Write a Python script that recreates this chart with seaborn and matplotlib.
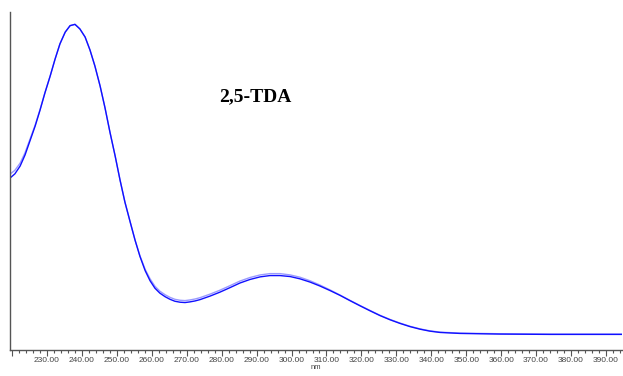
import matplotlib
matplotlib.use("Agg")
import matplotlib.pyplot as plt
import seaborn as sns
import pandas as pd
from matplotlib.ticker import MultipleLocator, FixedLocator, FixedFormatter

# wavelength (nm) and absorbance readings (arbitrary units)
wavelength = [219.4, 220.8, 222.3, 223.7, 225.1, 226.6, 228.0, 229.4, 230.9, 232.3,
              233.7, 235.2, 236.6, 238.0, 239.4, 240.9, 242.3, 243.7, 245.2, 246.6,
              248.0, 249.5, 250.9, 252.3, 253.8, 255.2, 256.6, 258.1, 259.5, 260.9,
              262.3, 263.8, 265.2, 266.6, 268.1, 269.5, 270.9, 272.4, 273.8, 276.7,
              279.5, 282.4, 285.2, 288.1, 291.0, 293.8, 296.7, 299.6, 302.4, 305.3,
              308.1, 311.0, 313.9, 316.7, 319.6, 322.4, 325.3, 328.2, 331.0, 333.9,
              336.8, 339.6, 342.5, 348.2, 359.7, 374.0, 394.6]
scan_a = [0.529, 0.542, 0.566, 0.600, 0.643, 0.689, 0.738, 0.791, 0.843, 0.895,
          0.942, 0.978, 0.998, 1.002, 0.988, 0.963, 0.923, 0.874, 0.812, 0.745,
          0.671, 0.597, 0.523, 0.455, 0.394, 0.338, 0.288, 0.244, 0.213, 0.190,
          0.175, 0.164, 0.156, 0.150, 0.147, 0.146, 0.148, 0.151, 0.155, 0.166,
          0.178, 0.192, 0.206, 0.217, 0.225, 0.229, 0.229, 0.226, 0.219, 0.209,
          0.197, 0.183, 0.168, 0.152, 0.136, 0.121, 0.106, 0.093, 0.082, 0.072,
          0.064, 0.058, 0.054, 0.051, 0.049, 0.048, 0.048]
scan_b = [0.541, 0.553, 0.575, 0.607, 0.648, 0.692, 0.740, 0.792, 0.843, 0.895,
          0.942, 0.978, 0.998, 1.002, 0.988, 0.963, 0.923, 0.874, 0.812, 0.745,
          0.671, 0.597, 0.523, 0.455, 0.394, 0.338, 0.290, 0.248, 0.219, 0.196,
          0.181, 0.170, 0.162, 0.156, 0.153, 0.152, 0.154, 0.157, 0.161, 0.172,
          0.184, 0.198, 0.212, 0.223, 0.231, 0.235, 0.235, 0.231, 0.224, 0.213,
          0.200, 0.185, 0.169, 0.153, 0.137, 0.122, 0.107, 0.094, 0.083, 0.073,
          0.065, 0.059, 0.055, 0.052, 0.050, 0.049, 0.049]

major_ticks = [220, 230, 240, 250, 260, 270, 280, 290, 300, 310, 320, 330, 340, 350, 360, 370, 380, 390]
major_labels = [""] + [f"{t:.2f}" for t in major_ticks[1:]]

df = pd.DataFrame({"nm": wavelength * 2,
                   "A": scan_b + scan_a,
                   "scan": ["b"] * len(wavelength) + ["a"] * len(wavelength)})

sns.set_style("white")
fig = plt.figure(figsize=(6.23, 3.76), dpi=100)
ax = fig.add_axes([10 / 623, 26 / 376, 612 / 623, 338 / 376])

sns.lineplot(data=df, x="nm", y="A", hue="scan", palette={"b": "#9a9aff", "a": "#1010ff"},
             linewidth=1.0, legend=False, ax=ax, sort=False, estimator=None)

ax.set_xlim(219.4, 394.6)
ax.set_ylim(0, 1.04)
ax.xaxis.set_major_locator(FixedLocator(major_ticks))
ax.xaxis.set_major_formatter(FixedFormatter(major_labels))
ax.xaxis.set_minor_locator(MultipleLocator(2))
ax.set_yticks([])
ax.tick_params(axis="x", which="major", direction="out", length=4, width=0.8,
               color="#555555", labelsize=6, labelcolor="#444444", pad=1.0, bottom=True)
ax.tick_params(axis="x", which="minor", direction="out", length=2, width=0.8,
               color="#555555", bottom=True)
for lab in ax.get_xticklabels():
    lab.set_family("Liberation Sans")
ax.set_xlabel("nm", fontsize=5.5, family="Liberation Sans", color="#444444", labelpad=0)
ax.set_ylabel("")
for s in ["top", "right"]:
    ax.spines[s].set_visible(False)
for s in ["left", "bottom"]:
    ax.spines[s].set_color("#555555")
    ax.spines[s].set_linewidth(1.0)

fig.text(255 / 623, 1 - 97 / 376, "2,5-TDA", family="Liberation Serif", fontweight="bold",
         fontsize=14, ha="center", va="center", color="black")

fig.savefig("out.png", dpi=100, facecolor="white")
